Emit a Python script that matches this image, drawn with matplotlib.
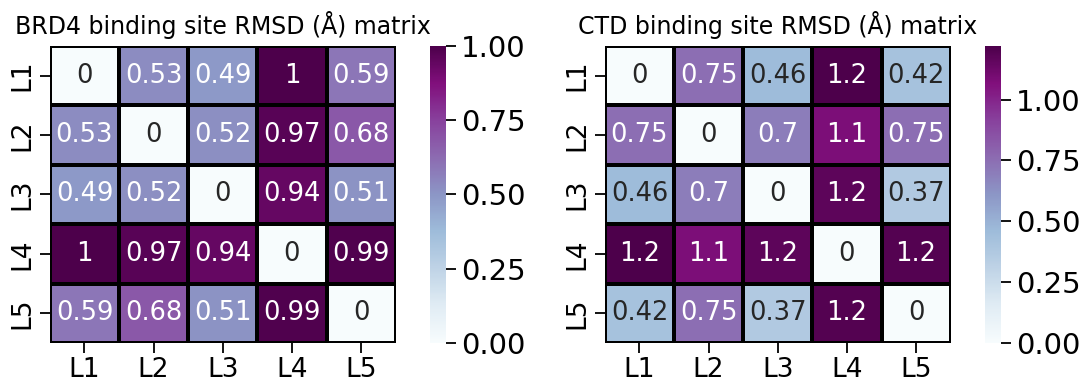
import numpy as np
import matplotlib
matplotlib.use("Agg")
import matplotlib.pyplot as plt
import seaborn as sns

labels = ["L1", "L2", "L3", "L4", "L5"]

# pairwise RMSD (Å)
brd4_rmsd = np.array([
    [0.00, 0.53, 0.49, 1.00, 0.59],
    [0.53, 0.00, 0.52, 0.97, 0.68],
    [0.49, 0.52, 0.00, 0.94, 0.51],
    [1.00, 0.97, 0.94, 0.00, 0.99],
    [0.59, 0.68, 0.51, 0.99, 0.00],
])

ctd_rmsd = np.array([
    [0.00, 0.75, 0.46, 1.22, 0.42],
    [0.75, 0.00, 0.70, 1.08, 0.75],
    [0.46, 0.70, 0.00, 1.17, 0.37],
    [1.22, 1.08, 1.17, 0.00, 1.20],
    [0.42, 0.75, 0.37, 1.20, 0.00],
])

titles = ["BRD4 binding site RMSD (Å) matrix", "CTD binding site RMSD (Å) matrix"]

fig = plt.figure(figsize=(10.84, 3.87), dpi=100)

ax1 = fig.add_axes([0.046, 0.114, 0.319, 0.767])
cax1 = fig.add_axes([0.397, 0.114, 0.0148, 0.767])
ax2 = fig.add_axes([0.558, 0.114, 0.319, 0.767])
cax2 = fig.add_axes([0.909, 0.114, 0.0148, 0.767])

for ax, cax, data, title in [(ax1, cax1, brd4_rmsd, titles[0]),
                             (ax2, cax2, ctd_rmsd, titles[1])]:
    sns.heatmap(data, ax=ax, cbar_ax=cax, cmap="BuPu", annot=True,
                annot_kws={"fontsize": 18.5}, linewidths=1.5, linecolor="black",
                xticklabels=labels, yticklabels=labels, vmin=0)
    ax.set_title(title, fontsize=17, pad=9)
    ax.tick_params(axis="both", labelsize=19, length=7, width=1.3)
    ax.set_yticklabels(labels, rotation=90, va="center")
    cax.tick_params(labelsize=21, length=7, width=1.3)
    cax.set_yticks([0, 0.25, 0.5, 0.75, 1.0])
    cax.set_yticklabels(["0.00", "0.25", "0.50", "0.75", "1.00"])

fig.savefig("out.png", dpi=100)
